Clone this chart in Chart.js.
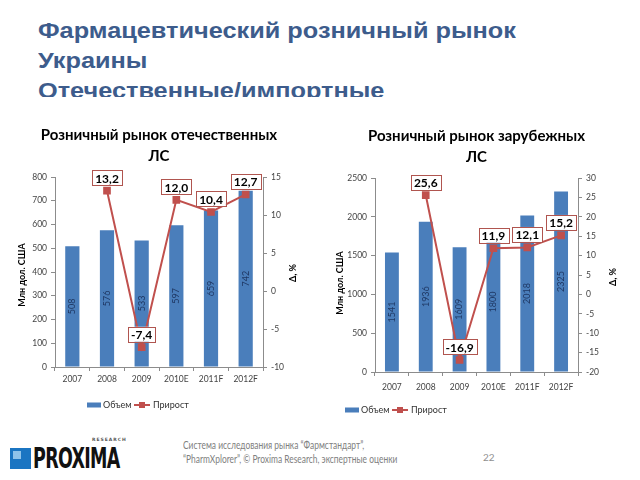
<!DOCTYPE html>
<html>
<head>
<meta charset="utf-8">
<script src="https://cdn.jsdelivr.net/npm/chart.js@4.4.1/dist/chart.umd.min.js"></script>
<style>
  body{margin:0;width:640px;height:480px;background:#fff;position:relative;overflow:hidden;font-family:Lato,sans-serif;}
  #title{position:absolute;left:38px;top:16px;height:81px;overflow:hidden;font:bold 22px "Liberation Sans",Arial,sans-serif;line-height:30px;color:#3d5c8c;transform:scaleX(1.15);transform-origin:left top;white-space:nowrap;}
  .box{position:absolute;top:115px;height:310px;}
  #logo{position:absolute;left:10px;top:436px;width:120px;height:40px;}
  #logo .sq{position:absolute;left:0;top:12px;width:21px;height:21px;background:#1b75c2;}
  #logo .sq2{position:absolute;left:3px;top:15px;width:8px;height:8px;background:#8fc3ea;}
  #logo .name{position:absolute;left:23px;top:5px;font:bold 29px "DejaVu Sans Condensed",sans-serif;color:#111;transform:scaleX(0.67);transform-origin:left top;letter-spacing:-1px;}
  #logo .res{position:absolute;left:82px;top:1px;font:bold 4.5px "DejaVu Sans",sans-serif;color:#555;letter-spacing:1px;}
  #foot{position:absolute;left:183px;top:438px;font:10.5px Lato,sans-serif;color:#808080;line-height:14px;transform:scaleX(0.8);transform-origin:left top;white-space:nowrap;}
  #page{position:absolute;left:483px;top:451px;font:10px Lato,sans-serif;color:#909090;}
</style>
</head>
<body>
<div id="title">Фармацевтический розничный рынок<br>Украины<br>Отечественные/импортные</div>
<div class="box" style="left:0;width:315px;"><canvas id="c1" width="315" height="310"></canvas></div>
<div class="box" style="left:320px;width:310px;"><canvas id="c2" width="310" height="310"></canvas></div>
<div id="logo"><div class="sq"></div><div class="sq2"></div><div class="res">RESEARCH</div><div class="name">PROXIMA</div></div>
<div id="foot">Система исследования рынка “Фармстандарт”,<br>“PharmXplorer”, © Proxima Research, экспертные оценки</div>
<div id="page">22</div>
<script>
const years = ['2007','2008','2009','2010E','2011F','2012F'];
const domVolume = [508,576,533,597,659,742];
const domGrowth = [null,13.2,-7.4,12.0,10.4,12.7];
const impVolume = [1541,1936,1609,1800,2018,2325];
const impGrowth = [null,25.6,-16.9,11.9,12.1,15.2];

const BLUE='#4a7ebb', RED='#c0504d', AXIS='#8c8c8c';
const fmt = v => v.toFixed(1).replace('.',',');

// labels on bars and line points, axis titles, legend
const decor = {
  id:'decor',
  afterDatasetsDraw(chart, args, o){
    const ctx = chart.ctx;
    ctx.save();
    // bar values, rotated, centred in bar
    const bars = chart.getDatasetMeta(0);
    ctx.font = '9px Lato';
    ctx.fillStyle = '#1f3864';
    ctx.textAlign = 'center'; ctx.textBaseline = 'middle';
    bars.data.forEach((b,i)=>{
      const y = (b.y + b.base)/2;
      ctx.save(); ctx.translate(b.x, y); ctx.rotate(-Math.PI/2);
      ctx.fillText(String(chart.data.datasets[0].data[i]), 0, 0);
      ctx.restore();
    });
    // growth boxes
    const pts = chart.getDatasetMeta(1);
    ctx.font = 'bold 12px Lato';
    pts.data.forEach((p,i)=>{
      const v = chart.data.datasets[1].data[i];
      if(v===null) return;
      const t = fmt(v);
      const w = ctx.measureText(t).width + 6, h = 15;
      const cx = p.x, cy = p.y - 13;
      ctx.fillStyle = '#fff';
      ctx.fillRect(cx-w/2, cy-h/2, w, h);
      ctx.strokeStyle = '#b0554f'; ctx.lineWidth = 1;
      ctx.strokeRect(Math.round(cx-w/2)+0.5, Math.round(cy-h/2)+0.5, Math.round(w), h);
      ctx.fillStyle = '#000';
      ctx.fillText(t, cx, cy+1);
    });
    // axis titles
    ctx.font = 'bold 9px Lato';
    ctx.fillStyle = '#000';
    [[o.yTitle, o.yTitlePos],[ 'Δ, %', o.y1TitlePos]].forEach(([t,pos])=>{
      ctx.save(); ctx.translate(pos[0], pos[1]); ctx.rotate(-Math.PI/2);
      ctx.fillText(t, 0, 0); ctx.restore();
    });
    // legend
    const [lx, ly] = o.legend;
    ctx.font = '9px Lato'; ctx.textAlign = 'left';
    ctx.fillStyle = BLUE; ctx.fillRect(lx, ly-2.5, 14, 5);
    ctx.fillStyle = '#333'; ctx.fillText('Объем', lx+16, ly);
    const lx2 = lx + 47;
    ctx.strokeStyle = RED; ctx.lineWidth = 2;
    ctx.beginPath(); ctx.moveTo(lx2, ly); ctx.lineTo(lx2+16, ly); ctx.stroke();
    ctx.fillStyle = RED; ctx.fillRect(lx2+5, ly-3, 6, 6);
    ctx.fillStyle = '#333'; ctx.fillText('Прирост', lx2+19, ly);
    ctx.restore();
  }
};

function makeChart(id, title, vol, gr, yMax, yStep, g1Min, g1Max, pad, xH, xPad, dec){
  const axisGrid = {display:true, drawOnChartArea:false, drawTicks:true, tickLength:4, color:AXIS};
  const tickFont = {family:'Lato', size:8.5};
  return new Chart(document.getElementById(id), {
    type:'bar',
    data:{labels:years, datasets:[
      {type:'bar', label:'Объем', data:vol, backgroundColor:BLUE, yAxisID:'y', order:1,
       barPercentage:0.41, categoryPercentage:1},
      {type:'line', label:'Прирост', data:gr, borderColor:RED, borderWidth:2, yAxisID:'y1', order:0,
       pointStyle:'rect', pointRadius:4, pointBackgroundColor:RED, pointBorderColor:RED}
    ]},
    options:{
      responsive:false, animation:false,
      layout:{padding:pad},
      plugins:{
        legend:{display:false}, tooltip:{enabled:false},
        title:{display:true, text:title, color:'#000', font:{family:'Lato', size:15, weight:'bold', lineHeight:1.4},
               padding:{top:pad.tt, bottom:10}},
        decor:dec
      },
      scales:{
        x:{grid:axisGrid, border:{color:AXIS},
           ticks:{color:'#444', font:tickFont, padding:xPad},
           afterFit(s){ s.height = xH; }},
        y:{min:0, max:yMax, grid:axisGrid, border:{color:AXIS},
           ticks:{stepSize:yStep, color:'#444', font:tickFont, padding:4, callback:v=>String(v)},
           afterFit(s){ s.width = 35; }},
        y1:{position:'right', min:g1Min, max:g1Max, grid:axisGrid, border:{color:AXIS},
           ticks:{stepSize:5, color:'#444', font:tickFont, padding:4, callback:v=>String(v)},
           afterFit(s){ s.width = 35; }}
      }
    },
    plugins:[decor]
  });
}

makeChart('c1', ['Розничный рынок отечественных','ЛС'], domVolume, domGrowth, 800, 100, -10, 15,
  {left:20, right:17, top:0, bottom:38, tt:10}, 20, 3,
  {yTitle:'Млн дол. США', yTitlePos:[22,160], y1TitlePos:[293,158], legend:[87,290]});
makeChart('c2', ['Розничный рынок зарубежных','ЛС'], impVolume, impGrowth, 2500, 500, -20, 30,
  {left:20, right:17, top:0, bottom:30, tt:11}, 23, 6,
  {yTitle:'Млн дол. США', yTitlePos:[20,168], y1TitlePos:[293,162], legend:[25,295]});
</script>
</body>
</html>
